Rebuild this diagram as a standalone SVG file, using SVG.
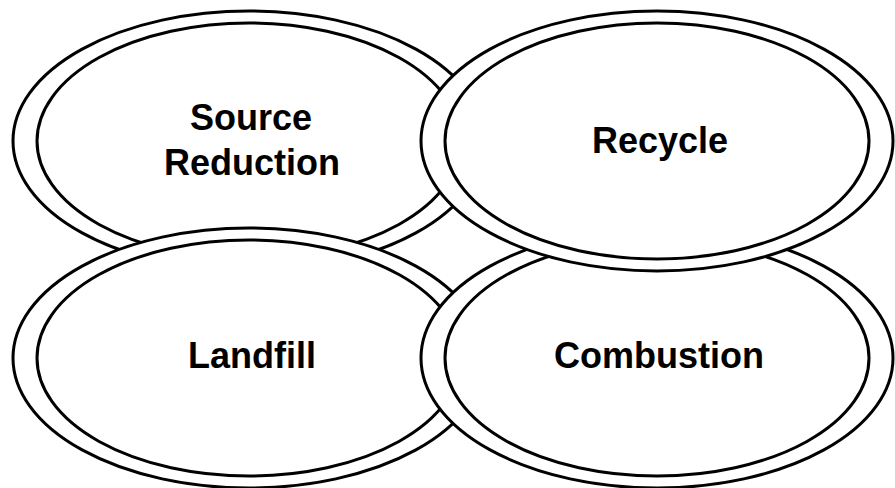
<svg xmlns="http://www.w3.org/2000/svg" width="895" height="488" viewBox="0 0 895 488">
<style>
.ring{fill:#fff;stroke:#000;stroke-width:3}
.lbl{font-family:"Liberation Sans",Arial,sans-serif;font-weight:bold;font-size:36px;fill:#000;text-anchor:middle}
</style>
<rect width="895" height="488" fill="#fff"/>
<g id="connectors"/>
<g id="source-reduction">
<ellipse class="ring" cx="249" cy="141" rx="236" ry="130"/>
<ellipse class="ring" cx="249" cy="141" rx="212" ry="118"/>
<text class="lbl" x="251" y="130">Source</text>
<text class="lbl" x="252" y="175">Reduction</text>
</g>
<g id="landfill">
<ellipse class="ring" cx="249" cy="358" rx="236" ry="130"/>
<ellipse class="ring" cx="249" cy="358" rx="212" ry="118"/>
<text class="lbl" x="252" y="368">Landfill</text>
</g>
<g id="combustion">
<ellipse class="ring" cx="657" cy="358" rx="236" ry="130"/>
<ellipse class="ring" cx="657" cy="358" rx="212" ry="118"/>
<text class="lbl" x="659" y="368">Combustion</text>
</g>
<g id="recycle">
<ellipse class="ring" cx="657" cy="141" rx="236" ry="130"/>
<ellipse class="ring" cx="657" cy="141" rx="212" ry="118"/>
<text class="lbl" x="660" y="153">Recycle</text>
</g>
</svg>
